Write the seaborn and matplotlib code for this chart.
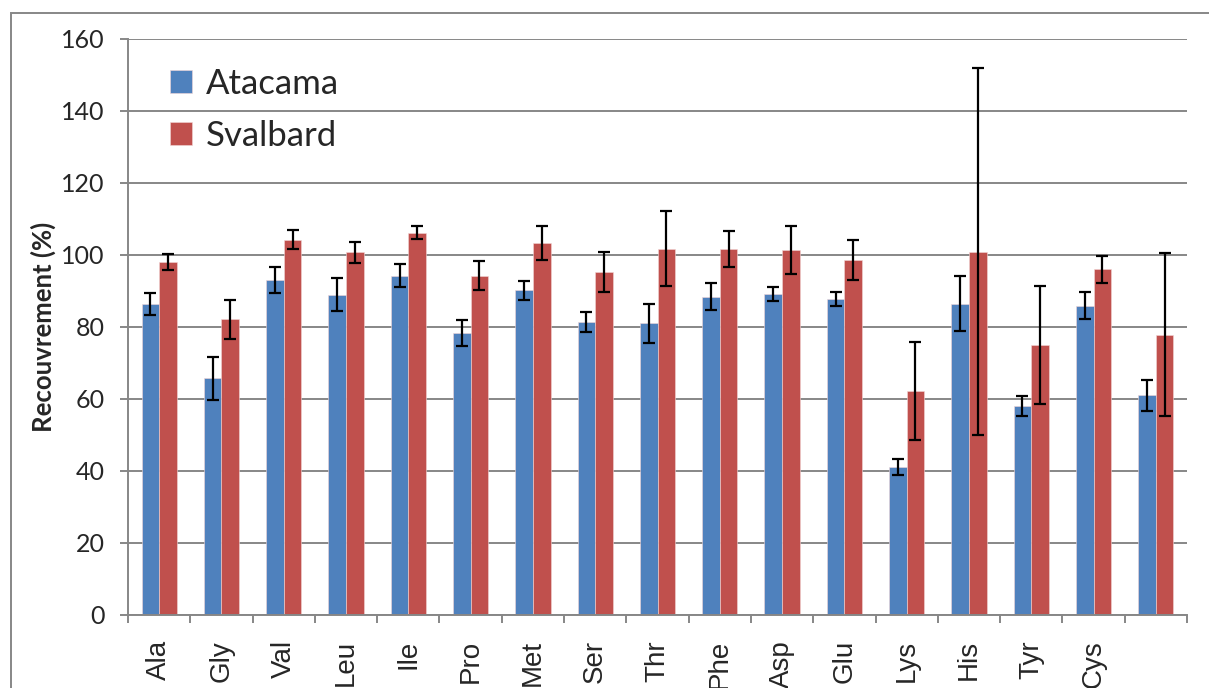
import matplotlib
matplotlib.use("Agg")
import matplotlib.pyplot as plt
from matplotlib.patches import Rectangle
from matplotlib.ticker import FixedLocator
import numpy as np
import pandas as pd
import seaborn as sns

# Amino acid recovery data
amino_acids = ["Ala", "Gly", "Val", "Leu", "Ile", "Pro", "Met", "Ser", "Thr",
               "Phe", "Asp", "Glu", "Lys", "His", "Tyr", "Cys", ""]
atacama = [86.4, 65.7, 93.1, 89.0, 94.3, 78.3, 90.2, 81.5, 81.0,
           88.4, 89.1, 87.8, 41.1, 86.5, 58.1, 85.9, 61.0]
atacama_err = [3.0, 5.9, 3.7, 4.6, 3.2, 3.7, 2.6, 2.8, 5.4,
               3.7, 2.0, 2.0, 2.2, 7.7, 2.7, 3.7, 4.3]
svalbard = [98.1, 82.1, 104.3, 100.7, 106.2, 94.3, 103.3, 95.3, 101.8,
            101.6, 101.3, 98.6, 62.3, 100.9, 74.9, 96.0, 77.9]
svalbard_err = [2.2, 5.5, 2.6, 2.9, 1.8, 3.9, 4.8, 5.5, 10.4,
                5.0, 6.7, 5.5, 13.6, 51.0, 16.4, 3.7, 22.6]
series_names = ["Atacama", "Svalbard"]
colors = ["#4F81BD", "#C0504D"]
y_ticks = [0, 20, 40, 60, 80, 100, 120, 140, 160]

df = pd.DataFrame({
    "aa": amino_acids * 2,
    "serie": [series_names[0]] * len(amino_acids) + [series_names[1]] * len(amino_acids),
    "val": atacama + svalbard,
})

sns.set_style("white")
plt.rcParams["font.family"] = ["Lato", "DejaVu Sans"]

W, H = 1209, 688
fig = plt.figure(figsize=(W / 100, H / 100), dpi=100)
ax = fig.add_axes([128 / W, 1 - 615 / H, (1187 - 128) / W, (615 - 39) / H])

grid_c = "#878787"

sns.barplot(data=df, x="aa", y="val", hue="serie", order=amino_acids,
            hue_order=series_names, palette=colors, width=0.566, gap=0,
            errorbar=None, saturation=1, ax=ax, zorder=2,
            edgecolor="#f2d6d6", linewidth=0.4)

# Error bars centred on each bar drawn by seaborn
for cont, errs in zip(ax.containers, [atacama_err, svalbard_err]):
    xs = [p.get_x() + p.get_width() / 2 for p in cont.patches]
    hs = [p.get_height() for p in cont.patches]
    ax.errorbar(xs, hs, yerr=errs, fmt="none", ecolor="black",
                elinewidth=1.6, capsize=4.3, capthick=1.6, zorder=3)

ax.set_ylim(0, 160)
ax.set_xlim(-0.5, len(amino_acids) - 0.5)
ax.set_yticks(y_ticks)
ax.yaxis.grid(True, color=grid_c, linewidth=1.4, zorder=0)
ax.set_axisbelow(True)

for side in ["top", "right"]:
    ax.spines[side].set_visible(False)
for side in ["left", "bottom"]:
    ax.spines[side].set_color(grid_c)
    ax.spines[side].set_linewidth(1.4)

ax.tick_params(axis="y", direction="out", length=6, width=1.4, color=grid_c,
               pad=11, labelsize=18, left=True)
ax.tick_params(axis="x", which="major", length=0, pad=18, labelsize=20,
               labelrotation=90)
ax.xaxis.set_minor_locator(FixedLocator(np.arange(-0.5, len(amino_acids), 1.0)))
ax.tick_params(axis="x", which="minor", direction="out", length=6, width=1.4,
               color=grid_c, bottom=True)
for lbl in ax.get_xticklabels():
    lbl.set_fontfamily("Liberation Sans")
    lbl.set_va("top")

ax.set_xlabel("")
ax.set_ylabel("Recouvrement (%)", fontsize=18.5, fontweight="bold")
ax.yaxis.set_label_coords(-0.068, 0.5)

handles, labels = ax.get_legend_handles_labels()
leg = ax.legend(handles, labels, loc="upper left", bbox_to_anchor=(0.040, 0.950),
                frameon=False, fontsize=25, handlelength=0.62, handleheight=0.62,
                handletextpad=0.4, labelspacing=0.57, borderpad=0,
                borderaxespad=0)

# Outer chart frame
fig.patches.append(Rectangle((11 / W, -0.05), 1.2, 1 - 13 / H + 0.05,
                             transform=fig.transFigure, fill=False,
                             edgecolor=grid_c, linewidth=1.4))

fig.savefig("out.png", dpi=100)
